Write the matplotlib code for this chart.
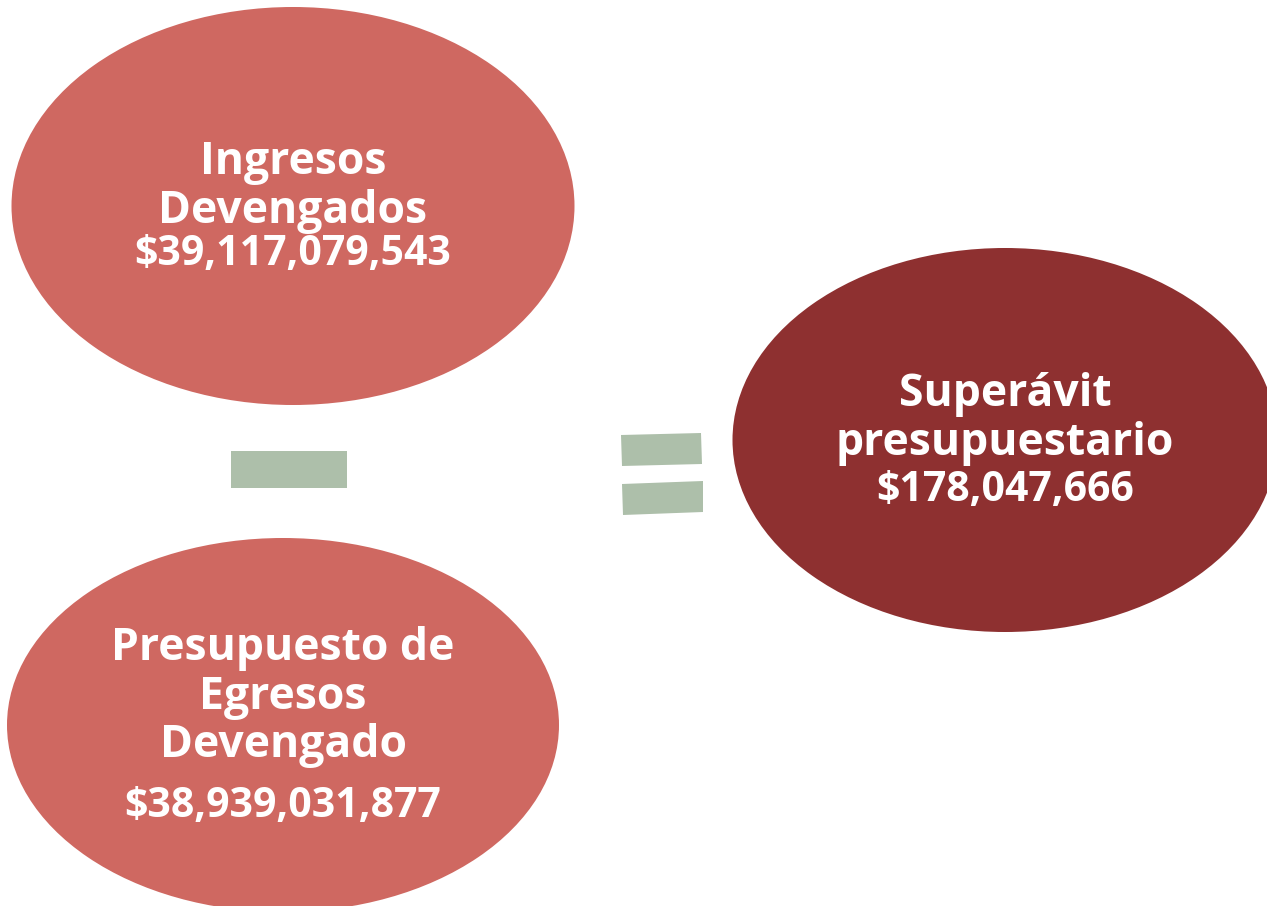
import matplotlib.pyplot as plt
from matplotlib.patches import Ellipse, Polygon

# node data
labels = ["Ingresos\nDevengados", "Presupuesto de\nEgresos\nDevengado", "Superávit\npresupuestario"]
amounts = [39117079543, 38939031877, 178047666]
colors = ["#CF6861", "#CF6861", "#8E3030"]
operator_color = "#ADBFAA"

# layout in pixel units (x, y, width, height)
ellipses = [(293, 206, 563, 398), (283, 725, 552, 374), (1005, 440, 545, 384)]
label_y = [187, 697, 419]
amount_y = [255, 806, 490]

fig = plt.figure(figsize=(12.67, 9.06), dpi=100)
ax = fig.add_axes([0, 0, 1, 1])
ax.set_xlim(0, 1267)
ax.set_ylim(906, 0)
ax.axis("off")

font = {"family": ["Open Sans", "DejaVu Sans"], "weight": "bold", "color": "white"}

for (cx, cy, w, h), lab, amt, c, ly, ay in zip(ellipses, labels, amounts, colors, label_y, amount_y):
    ax.add_patch(Ellipse((cx, cy), w, h, facecolor=c, edgecolor="none"))
    ax.text(cx, ly, lab, ha="center", va="center", fontsize=32, linespacing=1.1, **font)
    ax.text(cx, ay, f"${amt:,}", ha="center", va="center", fontsize=29.5, **font)

# minus sign
ax.add_patch(Polygon([(231, 451), (347, 451), (347, 488), (231, 488)],
                     facecolor=operator_color, edgecolor="none"))
# equals sign (slightly tilted bars)
ax.add_patch(Polygon([(621, 435), (701, 433), (702, 464), (622, 466)],
                     facecolor=operator_color, edgecolor="none"))
ax.add_patch(Polygon([(622, 484), (703, 481), (703, 512), (623, 515)],
                     facecolor=operator_color, edgecolor="none"))

fig.savefig("out.png", dpi=100)
